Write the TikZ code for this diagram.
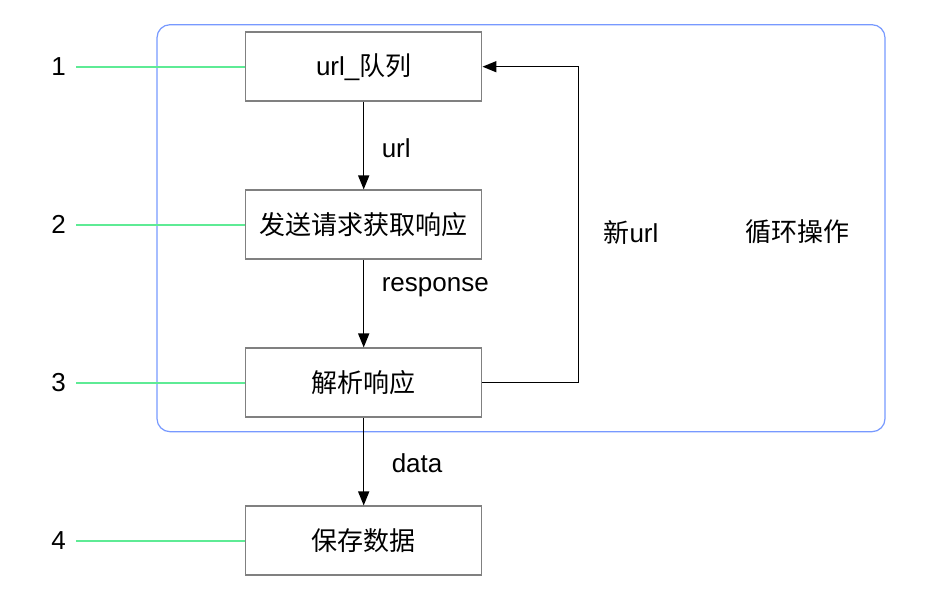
\documentclass[tikz,border=0pt]{standalone}
\usepackage{fontspec}
\setmainfont{Liberation Sans}
\newfontfamily\cjk{Noto Sans CJK SC}
\usepackage{xcolor}
\usepackage{tikz}
\usetikzlibrary{arrows.meta, positioning}
\definecolor{framblue}{HTML}{7799FF}
\definecolor{linkgreen}{HTML}{5EEB95}
\definecolor{boxgray}{HTML}{808080}

\begin{document}
\begin{tikzpicture}[x=1pt,y=-1pt,node distance=158pt,on grid,
    >={Triangle[length=14pt,width=11pt]},
    font=\fontsize{26}{31}\selectfont,
    stage/.style={draw=boxgray, line width=1.5pt, minimum width=236pt, minimum height=69pt, inner sep=0pt},
    num/.style={inner sep=10pt},
    link/.style={draw=linkgreen, line width=2pt},
    flow/.style={draw=black, line width=1.5pt}]
        \useasboundingbox (0,0) rectangle (926,605);
        \draw[framblue, line width=1.2pt, rounded corners=13pt] (157,24.7) rectangle (885,431.7);

        \node[stage]    (s_1)   at (363.7,66.7)                 {url\_{\cjk 队列}};
        \node[stage]    (s_2)   [below=of s_1]                  {\cjk 发送请求获取响应};
        \node[stage]    (s_3)   [below=of s_2]                  {\cjk 解析响应};
        \node[stage]    (s_4)   [below=of s_3]                  {\cjk 保存数据};

        \node[num]      (n_1)   [left=305pt of s_1]             {1};
        \node[num]      (n_2)   [left=305pt of s_2]             {2};
        \node[num]      (n_3)   [left=305pt of s_3]             {3};
        \node[num]      (n_4)   [left=305pt of s_4]             {4};

        \node[anchor=west]  (new)   at (600,232)                {{\cjk 新}url};
        \node[anchor=west]  (loop)  at (742,232)                {\cjk 循环操作};

        \path[link] (n_1) edge (s_1)
        (n_2) edge (s_2)
        (n_3) edge (s_3)
        (n_4) edge (s_4);

        \path[flow, ->] (s_1) edge node[right, pos=.53, xshift=14pt] {url} (s_2)
        (s_2) edge node[right, pos=.31, xshift=14pt] {response} (s_3)
        (s_3) edge node[right, pos=.52, xshift=24pt] {data} (s_4);

        \draw[flow, ->] (s_3.east) -- ++(96,0) |- (s_1.east);
    \end{tikzpicture}
\end{document}
